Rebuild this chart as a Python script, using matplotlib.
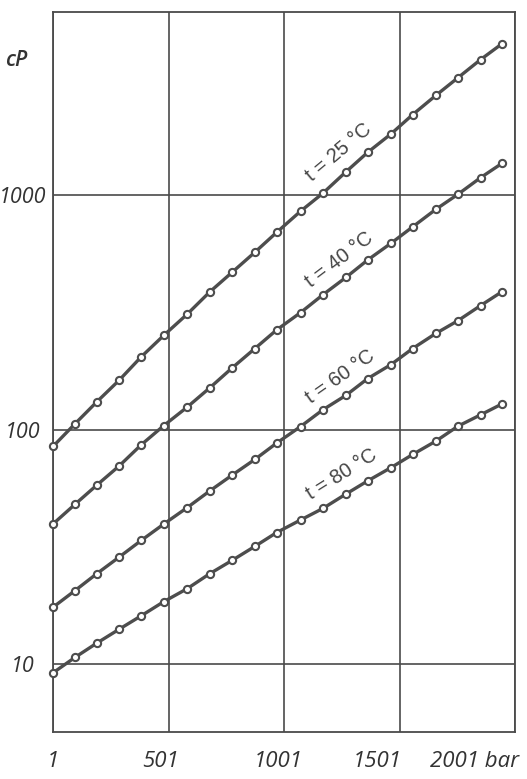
import matplotlib
matplotlib.use("Agg")
import matplotlib.pyplot as plt
from matplotlib.transforms import ScaledTranslation

# pressure in bar, viscosity in cP
pressure = [1, 96, 190, 287, 383, 481, 582, 679, 776, 875, 969,
            1073, 1169, 1269, 1363, 1464, 1558, 1658, 1754, 1852, 1946]
visc_25 = [84.7, 105.7, 131, 162, 204, 252, 310, 385, 467, 569, 691,
           851, 1014, 1251, 1514, 1814, 2193, 2646, 3149, 3762, 4404]
visc_40 = [39.6, 48.0, 57.9, 69.9, 86.1, 104, 124.6, 150.3, 182.8, 221.3, 265.5,
           314.9, 374.6, 444.4, 527, 621, 729.5, 866, 1004, 1182, 1363]
visc_60 = [17.5, 20.6, 24.3, 28.6, 33.7, 39.6, 46.5, 54.7, 63.9, 74.6, 87.5,
           103, 121.3, 139.8, 164.7, 189, 221.3, 256.5, 290.8, 337.2, 387]
visc_80 = [9.2, 10.7, 12.3, 14.1, 16.1, 18.5, 21.0, 24.3, 27.7, 31.8, 36.4,
           41.2, 46.1, 53.1, 60.4, 68.8, 78.3, 89.2, 103.3, 115.5, 128.7]

curve_labels = ["t = 25 °C", "t = 40 °C", "t = 60 °C", "t = 80 °C"]
x_ticks = [1, 501, 1001, 1501, 2001]
x_ticklabels = ["1", "501", "1001", "1501", "2001 bar"]
y_ticks = [10, 100, 1000]
y_ticklabels = ["10", "100", "1000"]

line_col = "#4d4d4d"
grid_col = "#4a4a4a"
text_col = "#333333"

fig = plt.figure(figsize=(5.27, 7.79), dpi=100)
ax = fig.add_axes([53 / 527, 1 - 732 / 779, (515 - 53) / 527, (732 - 12) / 779])

for vals in [visc_25, visc_40, visc_60, visc_80]:
    ax.plot(pressure, vals, color=line_col, lw=2.4, marker="o", ms=5.2,
            mfc="white", mec=line_col, mew=1.5, clip_on=False, zorder=3)

# curve labels: (pressure, viscosity, rotation)
label_pos = [(1239, 1514, 40), (1239, 531, 37), (1245, 167.5, 35), (1250, 64.4, 32)]
for txt, (px, vy, rot) in zip(curve_labels, label_pos):
    ax.text(px, vy, txt, rotation=rot, rotation_mode="anchor", ha="center",
            va="center", fontsize=14.5, family="Liberation Sans", color="#444444")

ax.set_yscale("log")
ax.set_xlim(1, 2001)
ax.set_ylim(5.15, 6000)
ax.set_xticks(x_ticks)
ax.set_xticklabels(x_ticklabels)
ax.set_yticks(y_ticks)
ax.set_yticklabels(y_ticklabels)
ax.yaxis.set_minor_locator(matplotlib.ticker.NullLocator())
ax.grid(True, color=grid_col, lw=1.2)
ax.set_axisbelow(True)
for s in ax.spines.values():
    s.set_color(grid_col)
    s.set_linewidth(1.3)

ax.tick_params(axis="both", length=0, labelcolor=text_col)
ax.tick_params(axis="x", pad=14)
ax.tick_params(axis="y", pad=22)
for lab in ax.get_yticklabels():
    lab.set_ha("center")
    lab.set_fontsize(15.5)
    lab.set_fontstyle("italic")
    lab.set_fontweight("medium")
    lab.set_family("Open Sans")

x_shift = [0, -8, -6, -22, -40]
for lab, dx in zip(ax.get_xticklabels(), x_shift):
    lab.set_fontsize(16)
    lab.set_fontstyle("italic")
    lab.set_fontweight("medium")
    lab.set_family("Open Sans")
    lab.set_transform(lab.get_transform() + ScaledTranslation(dx / 100, 0, fig.dpi_scale_trans))

fig.text(16 / 527, 1 - 60 / 779, "cP", ha="center", va="center", fontsize=15.5,
         fontstyle="italic", fontweight="semibold", family="Open Sans", color=text_col)

fig.savefig("out.png", dpi=100)
